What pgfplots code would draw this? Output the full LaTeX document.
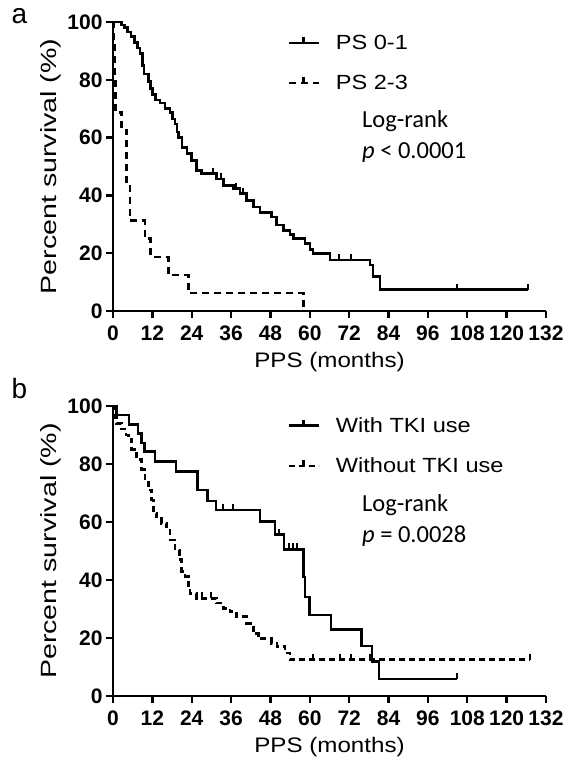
\documentclass[border=0pt]{standalone}
\usepackage{pgfplots}
\pgfplotsset{compat=1.18}
\usepackage{fontspec}
\setmainfont{Liberation Sans}
\newfontfamily\widesans[FakeStretch=1.15]{Liberation Sans}
\newfontfamily\ylabfont[FakeStretch=1.3]{Liberation Sans}
\newfontfamily\calibri{Carlito}
\pgfdeclareplotmark{cens}{\pgfpathmoveto{\pgfpointorigin}\pgfpathlineto{\pgfpoint{0pt}{6pt}}\pgfusepathqstroke}
\begin{document}
\begin{tikzpicture}[x=1pt,y=1pt]
\path[use as bounding box] (0,0) rectangle (568,760);
\pgfplotsset{
 km/.style={
  scale only axis, width=433pt, height=289pt,
  xmin=0,xmax=132,ymin=0,ymax=100,
  axis x line=bottom, axis y line=left, axis line style={-, line width=2.6pt},
  xtick={0,12,...,132}, ytick={0,20,...,100},
  tick align=outside, major tick length=7pt,
  every tick/.style={line width=2.4pt, black},
  tick label style={font=\bfseries\fontsize{21}{25}\selectfont},
  xticklabel style={yshift=-4pt},
  /pgf/number format/assume math mode=true,
  xlabel={PPS (months)}, ylabel={Percent survival (\%)},
  xlabel style={font=\widesans\fontsize{21}{25}\selectfont, yshift=-5pt},
  ylabel style={font=\ylabfont\fontsize{22}{26}\selectfont},
  clip=false,
  legend style={draw=none, fill=none, font=\widesans\fontsize{20.5}{24}\selectfont,
    legend cell align=left, row sep=20pt, inner sep=0pt, column sep=14pt},
  legend image code/.code={\draw[#1] (0pt,0pt) -- (30pt,0pt); \draw[#1,solid] (15pt,0pt) -- (15pt,6pt);},
 },
 surv/.style={black, line width=2.6pt, const plot},
 survd/.style={black, line width=2.6pt, const plot, dash pattern=on 7pt off 5pt},
 cmark/.style={only marks, mark=cens, black, mark options={line width=2pt}, forget plot},
}
% ---------------- panel a
\begin{axis}[km, at={(113pt,449pt)}, anchor=south west,
  legend style={at={(axis description cs:0.402,0.962)}, anchor=north west}]
\addplot[surv] table {
0 100
2.5 99
3.5 98
4.5 96.5
5.5 95
6.5 93
7.5 91
8.2 89
9.0 85
9.5 82
10.8 79.5
11.5 77
12 75
13 73
14.3 72
15.8 70
17.4 68.7
18.2 66.5
18.9 64.7
19.5 62
20 60
21 56.6
22.5 54.4
24 52
25.5 48.6
27 47.5
31.6 45.7
33.6 43.4
36.7 42.3
38.7 40.6
40.7 38.3
42.8 36
44.8 34
48.4 32.5
49.9 29.7
51.9 27.9
54 26.5
55 25
58.5 23.3
60 21.2
61 19.9
66.1 17.6
78.3 15.9
79.3 11.9
81.4 7.4
126.5 7.4
};
\addlegendentry{PS 0-1}
\addplot[survd] table {
0 100
0.3 93.75
0.5 81.25
0.7 68.75
2.6 62.5
4.2 43.75
5.2 31.25
9.8 25
11.5 18.75
16.9 12.5
23 6.25
58 0
};
\addlegendentry{PS 2-3}
\addplot[cmark] table {
30.5 47.5
33 45.7
37.5 42.3
39.5 40.6
69 17.6
72.5 17.6
104.8 7.4
126.5 7.4
};
\node[anchor=north west, align=left, inner sep=0pt, font=\calibri\fontsize{24.5}{31}\selectfont]
  at (axis description cs:0.575,0.695) {Log-rank\\\textit{p} < 0.0001};
\end{axis}
% ---------------- panel b
\begin{axis}[km, at={(113pt,64pt)}, anchor=south west, height=290pt,
  legend style={at={(axis description cs:0.402,0.968)}, anchor=north west}]
\addplot[surv] table {
0 100
1 96.9
4.9 93.6
7.6 90.6
8.7 87.2
9.6 84.3
12.8 80.8
19.2 77.4
25.7 71
28.8 67.2
31.4 64.2
44.8 60.2
49.4 55.6
52.1 50.6
58 41
58.5 34.2
59.9 27.9
66.4 22.9
75.8 17.2
78.9 11.8
81.1 5.8
104.8 5.8
};
\addlegendentry{With TKI use}
\addplot[survd, dash pattern=on 6pt off 4pt] table {
0 100
0.5 96
1 94
2.5 92
4 90
4.7 88.5
5.7 85
7.2 81.5
8.7 78
9.8 74.5
10.8 71
11.8 67.6
12.3 63
13.3 61.8
14.8 59.5
16.4 57.2
17.4 53.8
18.9 50.3
20.2 47
20.9 43
22 41.2
23 37.7
23.5 35.4
25.5 33.7
31.5 32
33.6 30.2
35.7 29.1
37.7 27.4
40.7 25
42.8 21.5
44.3 19.8
48.4 18.2
50 17.1
52.4 14.8
54 12.5
127 12.5
};
\addlegendentry{Without TKI use}
\addplot[cmark] table {
33.6 64.2
36.7 64.2
50.5 55.6
53.6 50.6
55 50.6
56 50.6
104.8 5.8
27 33.7
30 33.7
61 12.5
69.2 12.5
72.6 12.5
78.4 12.5
127 12.5
};
\node[anchor=north west, align=left, inner sep=0pt, font=\calibri\fontsize{24.5}{31}\selectfont]
  at (axis description cs:0.575,0.695) {Log-rank\\\textit{p} = 0.0028};
\end{axis}
\node[anchor=west, font=\fontsize{28}{32}\selectfont] at (8,744) {a};
\node[anchor=west, font=\fontsize{28}{32}\selectfont] at (8,372) {b};
\end{tikzpicture}
\end{document}
